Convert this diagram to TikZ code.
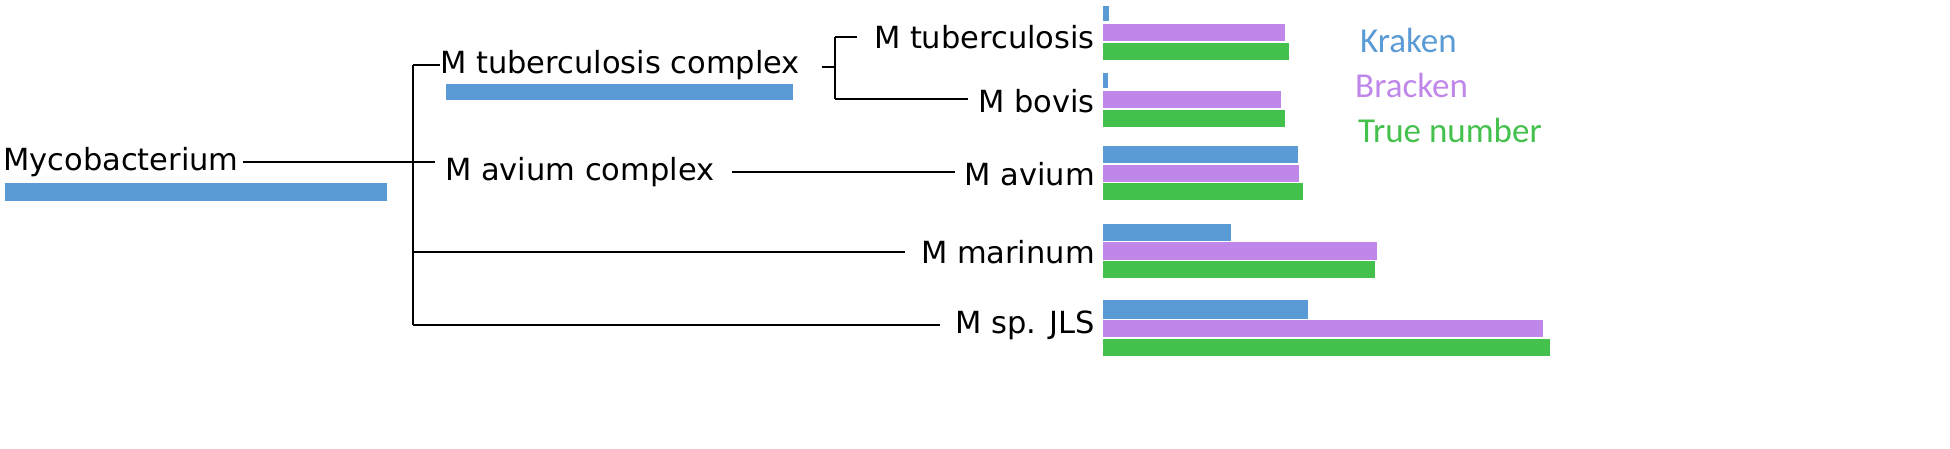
\documentclass[tikz,border=0pt]{standalone}
\usepackage{fontspec}
\setmainfont{DejaVu Sans}
\newfontfamily\legfont{Carlito}
\definecolor{kb}{HTML}{5B9BD5}
\definecolor{bp}{HTML}{BF87EA}
\definecolor{tg}{HTML}{44C04C}
\begin{document}
\begin{tikzpicture}[x=1pt,y=-1pt,
  lbl/.style={inner sep=0pt,font=\fontsize{30.5}{33}\selectfont},
  leg/.style={inner sep=0pt,font=\legfont\fontsize{35}{38}\selectfont},
  ln/.style={line width=2pt},
  kbar/.style={fill=kb},bbar/.style={fill=bp},tbar/.style={fill=tg}]
\useasboundingbox (0,0) rectangle (1950,449);
% labels
\node[lbl,anchor=west] (myco) at (3,162) {Mycobacterium};
\node[lbl,anchor=west] (mtc) at (440,65) {M tuberculosis complex};
\node[lbl,anchor=west] (mac) at (445,172) {M avium complex};
\node[lbl,anchor=east] (mtb) at (1095,37) {M tuberculosis};
\node[lbl,anchor=east] (mbov) at (1095,101) {M bovis};
\node[lbl,anchor=east] (mav) at (1095,174) {M avium};
\node[lbl,anchor=east] (mmar) at (1095,252) {M marinum};
\node[lbl,anchor=east] (mjls) at (1095,325) {M sp. JLS};
\node[leg,anchor=west,text=kb] (lk) at (1360,40) {Kraken};
\node[leg,anchor=west,text=bp] (lb) at (1355,85) {Bracken};
\node[leg,anchor=west,text=tg] (lt) at (1358,130) {True number};
% tree
\coordinate (r1) at (413,162);
\coordinate (rt) at (413,65);
\coordinate (rb) at (413,325);
\draw[ln] (myco.east |- r1) ++(4,0) -- (r1);
\draw[ln] (rt) -- (rb);
\draw[ln] (rt) -- (mtc.west |- rt) ++(0,0);
\draw[ln] (r1) -- ++(22,0);
\draw[ln] (413,252) -- (905,252);
\draw[ln] (rb) -- (940,325);
\coordinate (s1) at (835,67);
\draw[ln] (822,67) -- (s1);
\draw[ln] (835,37) -- (835,99);
\draw[ln] (835,37) -- (857,37);
\draw[ln] (835,99) -- (968,99);
\draw[ln] (732,172) -- (955,172);
% kraken bars under internal nodes
\fill[kbar] (5,183) rectangle (387,201);
\fill[kbar] (446,84) rectangle (793,100);
% species bars
\fill[kbar] (1103,6) rectangle (1109,21);
\fill[bbar] (1103,24) rectangle (1285,41);
\fill[tbar] (1103,43) rectangle (1289,60);
\fill[kbar] (1103,73) rectangle (1108,88);
\fill[bbar] (1103,91) rectangle (1281,108);
\fill[tbar] (1103,110) rectangle (1285,127);
\fill[kbar] (1103,146) rectangle (1298,163);
\fill[bbar] (1103,165) rectangle (1299,182);
\fill[tbar] (1103,183) rectangle (1303,200);
\fill[kbar] (1103,224) rectangle (1231,241);
\fill[bbar] (1103,242) rectangle (1377,260);
\fill[tbar] (1103,261) rectangle (1375,278);
\fill[kbar] (1103,300) rectangle (1308,319);
\fill[bbar] (1103,320) rectangle (1543,337);
\fill[tbar] (1103,339) rectangle (1550,356);
\end{tikzpicture}
\end{document}
